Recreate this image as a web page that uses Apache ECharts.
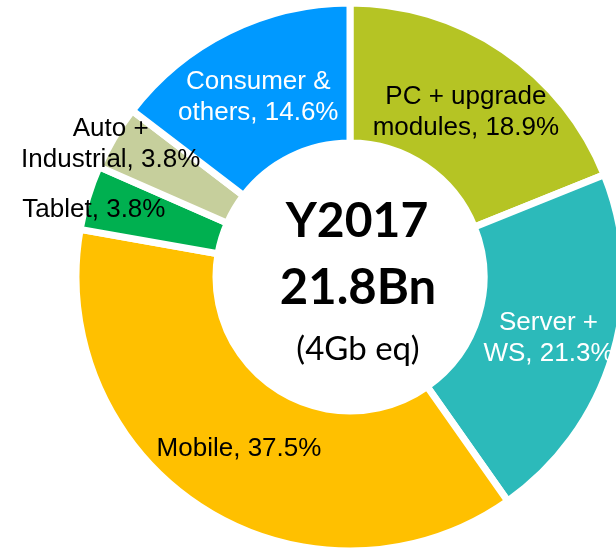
<!DOCTYPE html>
<html>
<head>
<meta charset="utf-8">
<script src="https://cdn.jsdelivr.net/npm/echarts@6/dist/echarts.min.js"></script>
<style>
  html, body { margin: 0; padding: 0; background: #fff; }
  #chart { width: 616px; height: 548px; }
</style>
</head>
<body>
<div id="chart"></div>
<script>
// DRAM bit demand by application, Y2017
const segments = ["PC + upgrade\nmodules", "Server +\nWS", "Mobile", "Tablet", "Auto +\nIndustrial", "Consumer &\nothers"];
const shares = [18.9, 21.3, 37.5, 3.8, 3.8, 14.6];
const colors = ["#b5c424", "#2cbaba", "#ffc000", "#00b050", "#c6cf9c", "#0099ff"];
const labelColors = ["#000", "#fff", "#000", "#000", "#000", "#fff"];

// nudge labels to where the original slide had them
const labelShift = {
  0: { dx: 0, dy: 7 },
  1: { dx: 0, dy: 3 },
  2: { dx: 0, dy: -3 },
  3: { dx: -58, dy: -7 },
  4: { dx: -61, dy: -27 },
  5: { dx: 0, dy: 6 }
};

const chart = echarts.init(document.getElementById("chart"));

chart.setOption({
  animation: false,
  series: [
    {
      type: "pie",
      center: [350, 277],
      radius: [134, 274],
      startAngle: 90,
      clockwise: true,
      avoidLabelOverlap: false,
      itemStyle: { borderColor: "#fff", borderWidth: 7 },
      label: {
        show: true,
        position: "inside",
        fontFamily: "Liberation Sans",
        fontSize: 26,
        lineHeight: 31,
        formatter: (p) => p.name + ", " + p.value + "%"
      },
      labelLine: { show: false },
      labelLayout: (p) => labelShift[p.dataIndex] || {},
      emphasis: { disabled: true },
      data: segments.map((name, i) => ({
        name: name,
        value: shares[i],
        itemStyle: { color: colors[i] },
        label: { color: labelColors[i] }
      }))
    }
  ],
  graphic: [
    {
      type: "text",
      x: 357, y: 222,
      style: {
        text: "Y2017", align: "center", verticalAlign: "middle",
        textAlign: "center", textVerticalAlign: "middle",
        font: "bold 48px Lato", fill: "#000"
      }
    },
    {
      type: "text",
      x: 358, y: 288,
      style: {
        text: "21.8Bn", align: "center", verticalAlign: "middle",
        textAlign: "center", textVerticalAlign: "middle",
        font: "bold 49px Lato", fill: "#000"
      }
    },
    {
      type: "text",
      x: 358, y: 349,
      style: {
        text: "(4Gb eq)", align: "center", verticalAlign: "middle",
        textAlign: "center", textVerticalAlign: "middle",
        font: "33px Lato", fill: "#000"
      }
    }
  ]
});
</script>
</body>
</html>
